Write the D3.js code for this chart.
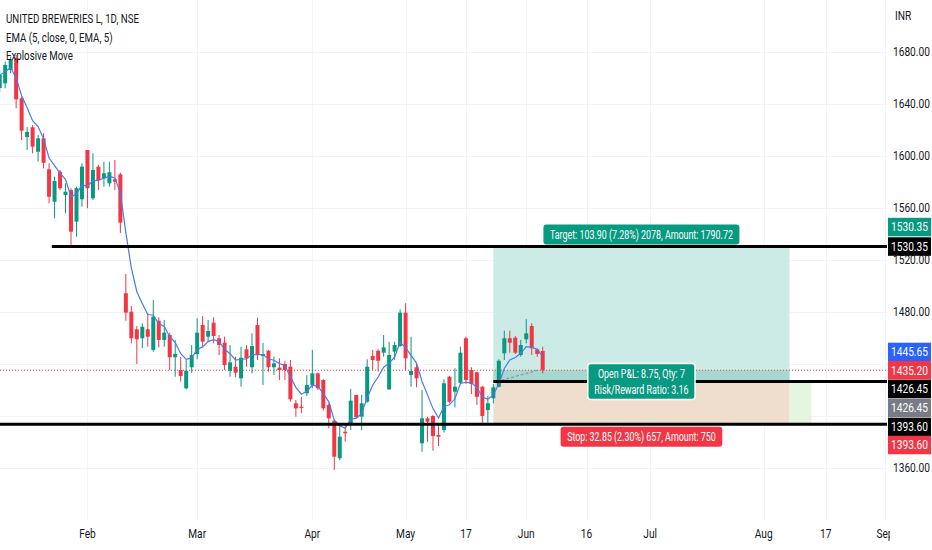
<!DOCTYPE html>
<html lang="en">
<head>
<meta charset="UTF-8">
<title>United Breweries 1D</title>
<script src="https://d3js.org/d3.v7.min.js"></script>
<style>
  html, body { margin: 0; padding: 0; background: #fff; }
  svg { display: block; }
  text {
    font-family: Roboto, 'Liberation Sans', sans-serif;
    fill: #131722;
  }
  .badge text { fill: #fff; }
</style>
</head>
<body>
<script>
    // daily candles, bar 0 .. 99 (mid Jan to 6 Jun)
    var opens = [1652.3,1655.9,1666.2,1675.2,1644.4,1614.6,1622.1,1603.3,1613.6,1589.8,
        1564.8,1587.9,1570.0,1573.8,1549.5,1566.7,1604.6,1567.5,1591.8,1582.8,
        1579.0,1582.1,1585.9,1494.4,1480.2,1466.7,1459.8,1466.7,1450.8,1473.3,
        1458.5,1462.3,1445.2,1435.4,1421.3,1437.5,1447.7,1470.0,1461.0,1471.8,
        1459.8,1456.4,1434.8,1437.9,1429.0,1451.3,1437.5,1470.0,1446.2,1450.2,
        1437.5,1437.2,1440.0,1437.9,1409.8,1407.2,1417.5,1423.8,1432.8,1427.7,
        1408.5,1396.4,1367.5,1387.9,1393.1,1416.2,1399.5,1411.0,1446.2,1450.2,
        1448.7,1420.5,1449.5,1453.8,1479.5,1431.5,1437.5,1379.0,1398.2,1400.0,
        1385.4,1389.2,1430.2,1418.7,1425.6,1459.8,1435.4,1433.6,1422.5,1404.6,
        1413.6,1422.5,1448.2,1459.8,1460.2,1446.9,1459.0,1469.2,1451.3,1450.0];
    var highs = [1666.2,1672.5,1676.4,1677.7,1645.6,1622.3,1623.8,1616.2,1617.5,1594.4,
        1584.1,1589.2,1579.0,1575.2,1576.4,1594.4,1604.6,1602.1,1593.1,1595.6,
        1595.6,1596.9,1587.2,1509.2,1484.6,1469.2,1471.3,1479.0,1489.2,1475.9,
        1473.8,1464.1,1458.5,1445.6,1443.1,1454.6,1475.2,1476.9,1473.8,1475.9,
        1462.3,1461.0,1454.6,1445.6,1453.3,1454.6,1463.6,1475.6,1456.2,1450.8,
        1445.6,1444.4,1442.5,1443.1,1412.3,1414.8,1431.5,1450.8,1433.3,1428.2,
        1409.8,1396.9,1393.1,1394.4,1420.8,1416.2,1416.2,1443.6,1450.8,1451.3,
        1462.3,1457.2,1457.2,1482.1,1486.7,1461.0,1440.0,1420.0,1399.5,1400.8,
        1394.4,1428.2,1430.8,1436.7,1453.3,1461.0,1437.5,1434.1,1423.1,1415.4,
        1424.6,1443.6,1465.6,1465.6,1461.5,1458.5,1474.4,1471.3,1452.1,1453.3];
    var lows = [1649.2,1652.1,1663.6,1636.7,1612.3,1604.6,1602.1,1595.6,1590.5,1563.6,
        1552.1,1573.8,1555.9,1530.2,1537.9,1561.0,1559.8,1566.2,1573.8,1576.4,
        1576.4,1573.8,1540.8,1473.3,1455.9,1440.0,1452.1,1453.3,1449.5,1452.8,
        1453.3,1435.4,1430.2,1426.4,1420.5,1433.3,1443.6,1453.3,1457.2,1455.9,
        1446.9,1435.4,1430.2,1429.8,1422.5,1437.9,1432.8,1443.1,1423.8,1434.1,
        1431.5,1427.7,1427.7,1411.0,1399.5,1402.1,1415.4,1421.3,1420.0,1404.1,
        1390.5,1358.5,1366.0,1380.2,1389.2,1398.2,1389.2,1410.2,1435.4,1434.1,
        1445.6,1420.0,1443.1,1453.3,1435.4,1422.5,1422.1,1372.5,1380.2,1373.3,
        1376.9,1387.2,1409.8,1406.7,1425.2,1424.6,1416.9,1408.5,1394.4,1394.8,
        1409.8,1422.1,1443.1,1448.7,1447.7,1445.6,1455.9,1446.9,1445.6,1432.8];
    var closes = [1662.3,1670.0,1674.4,1643.6,1619.5,1618.5,1607.2,1613.6,1594.8,1568.7,
        1580.8,1575.2,1572.5,1541.8,1575.2,1591.8,1575.2,1589.2,1581.5,1586.7,
        1587.5,1580.2,1548.7,1479.5,1459.8,1459.0,1468.7,1461.0,1476.4,1458.5,
        1464.1,1445.2,1447.7,1430.8,1434.8,1446.9,1464.1,1457.2,1465.4,1461.5,
        1454.6,1439.2,1441.3,1433.3,1444.8,1444.4,1453.8,1446.9,1447.7,1437.5,
        1440.5,1435.4,1435.4,1412.8,1405.9,1406.2,1423.8,1432.8,1421.3,1405.9,
        1398.2,1368.7,1384.1,1386.7,1411.8,1399.0,1409.8,1437.9,1443.1,1442.5,
        1452.8,1446.9,1454.6,1479.5,1444.4,1434.6,1429.0,1398.2,1395.6,1384.6,
        1384.1,1425.2,1411.0,1422.5,1448.7,1427.7,1424.6,1414.8,1400.0,1409.8,
        1422.1,1442.5,1459.8,1456.4,1448.7,1454.6,1463.6,1452.1,1447.7,1435.2];

    // time axis labels and the bar each one sits on
    var timeLabels = ["Feb", "Mar", "Apr", "May", "17", "Jun", "16", "Jul", "Aug", "17", "Sep"];
    var timeBars = [16, 36, 57, 74, 85, 96, 107, 118.6, 139.3, 150.6, 161.4];

    // price grid and the labels that are not hidden under badges
    var priceGrid = [1360, 1400, 1440, 1480, 1520, 1560, 1600, 1640, 1680];
    var priceLabels = [1360, 1480, 1520, 1560, 1600, 1640, 1680];

    // drawn horizontal levels (price, first bar)
    var levelPrices = [1530.35, 1426.45, 1393.60];
    var levelStarts = [9.5, 90, -2];

    // long position tool
    var entryPrice = 1426.45, targetPrice = 1530.35, stopPrice = 1393.60;
    var posStart = 90, posEnd = 144, posExt = 148;
    var lastPrice = 1435.20;
    var targetText = "Target: 103.90 (7.28%) 2078, Amount: 1790.72";
    var stopText = "Stop: 32.85 (2.30%) 657, Amount: 750";
    var midText = ["Open P&L: 8.75, Qty: 7", "Risk/Reward Ratio: 3.16"];

    // right-axis badges
    var badgeValues = [1530.35, 1530.35, 1445.65, 1435.20, 1426.45, 1426.45, 1393.60, 1393.60];
    var badgeColors = ["#089981", "#000000", "#2962ff", "#f23645", "#000000", "#787b86", "#000000", "#f23645"];

    var legend = ["UNITED BREWERIES L, 1D, NSE", "EMA (5, close, 0, EMA, 5)", "Explosive Move"];

    var width = 932, height = 550;
    var plotRight = 887, plotBottom = 520;
    var green = "#089981", red = "#f23645";

    var x = d3.scaleLinear().domain([0, 99]).range([-0.3, 542.7]);
    var y = d3.scaleLinear().domain([1360, 1680]).range([468, 52]);

    var candles = opens.map(function (o, i) {
        return {i: i, o: o, h: highs[i], l: lows[i], c: closes[i]};
    });

    // EMA(5) of close
    var ema = [];
    closes.forEach(function (c, i) {
        ema.push(i === 0 ? c : c * 2 / 6 + ema[i - 1] * 4 / 6);
    });

    var svg = d3.select("body").append("svg")
        .attr("width", width).attr("height", height)
        .attr("viewBox", "0 0 " + width + " " + height);

    svg.append("rect").attr("width", width).attr("height", height).attr("fill", "#fff");

    var defs = svg.append("defs");
    defs.append("clipPath").attr("id", "plot")
        .append("rect").attr("width", plotRight).attr("height", plotBottom);
    defs.append("clipPath").attr("id", "timeclip")
        .append("rect").attr("width", plotRight + 3).attr("height", height);

    // the chart font is a narrow one: measure and squeeze horizontally
    var fsLegend = 13.5, fsAxis = 12.5, fsLabel = 13;
    function measure(str, size) {
        var t = svg.append("text").attr("font-size", size).text(str);
        var w = t.node().getComputedTextLength();
        t.remove();
        return w;
    }
    var kLegend = 133 / measure(legend[0], fsLegend);
    var kAxis = 37 / measure("1680.00", fsAxis);
    var kLabel = 183 / measure(targetText, fsLabel);

    function squeeze(sel, k) {
        sel.each(function () {
            var t = d3.select(this);
            var tx = +t.attr("x"), ty = +t.attr("y");
            t.attr("x", 0).attr("y", 0)
                .attr("transform", "translate(" + tx + "," + ty + ") scale(" + k + ",1)");
        });
    }

    var plot = svg.append("g").attr("clip-path", "url(#plot)");

    // grid
    plot.selectAll(".hgrid").data(priceGrid).enter().append("line")
        .attr("x1", 0).attr("x2", plotRight)
        .attr("y1", function (d) { return Math.round(y(d)) + 0.5; })
        .attr("y2", function (d) { return Math.round(y(d)) + 0.5; })
        .attr("stroke", "#f0f3fa");
    plot.selectAll(".vgrid").data(timeBars).enter().append("line")
        .attr("x1", function (d) { return Math.round(x(d)) + 0.5; })
        .attr("x2", function (d) { return Math.round(x(d)) + 0.5; })
        .attr("y1", 0).attr("y2", plotBottom)
        .attr("stroke", "#f0f3fa");

    // position tool areas
    plot.append("rect")
        .attr("x", x(posStart)).attr("width", x(posEnd) - x(posStart))
        .attr("y", y(targetPrice)).attr("height", y(entryPrice) - y(targetPrice))
        .attr("fill", "#cdebe6");
    plot.append("rect")
        .attr("x", x(posStart)).attr("width", x(posEnd) - x(posStart))
        .attr("y", y(lastPrice)).attr("height", y(entryPrice) - y(lastPrice))
        .attr("fill", "#a5d8cf");
    plot.append("rect")
        .attr("x", x(posStart)).attr("width", x(posEnd) - x(posStart))
        .attr("y", y(entryPrice)).attr("height", y(stopPrice) - y(entryPrice))
        .attr("fill", "#efdecd");
    plot.append("rect")
        .attr("x", x(posEnd)).attr("width", x(posExt) - x(posEnd))
        .attr("y", y(entryPrice)).attr("height", y(stopPrice) - y(entryPrice))
        .attr("fill", "#e4f6df");

    // last price dotted line
    plot.append("line")
        .attr("x1", 0).attr("x2", plotRight)
        .attr("y1", y(lastPrice)).attr("y2", y(lastPrice))
        .attr("stroke", red).attr("stroke-width", 1).attr("stroke-dasharray", "1 2");

    // candles
    var bars = plot.selectAll(".candle").data(candles).enter().append("g").attr("class", "candle");
    bars.append("line")
        .attr("x1", function (d) { return x(d.i); })
        .attr("x2", function (d) { return x(d.i); })
        .attr("y1", function (d) { return y(d.h); })
        .attr("y2", function (d) { return y(d.l); })
        .attr("stroke", function (d) { return d.c >= d.o ? green : red; })
        .attr("stroke-width", 1);
    bars.append("rect")
        .attr("x", function (d) { return x(d.i) - 2; })
        .attr("width", 4)
        .attr("y", function (d) { return y(Math.max(d.o, d.c)); })
        .attr("height", function (d) { return Math.max(1, Math.abs(y(d.o) - y(d.c))); })
        .attr("fill", function (d) { return d.c >= d.o ? green : red; });

    // EMA line
    plot.append("path")
        .datum(ema)
        .attr("fill", "none")
        .attr("stroke", "#4a7bec")
        .attr("stroke-width", 1.2)
        .attr("d", d3.line()
            .x(function (d, i) { return x(i); })
            .y(function (d) { return y(d); }));

    // trade path (entry -> last close)
    plot.append("line")
        .attr("x1", x(posStart + 0.6)).attr("y1", y(entryPrice))
        .attr("x2", x(98.8)).attr("y2", y(closes[99] + 0.8))
        .attr("stroke", "#9598a1").attr("stroke-width", 1.3).attr("stroke-dasharray", "3 2");

    // horizontal levels
    plot.selectAll(".level").data(levelPrices).enter().append("line")
        .attr("x1", function (d, i) { return x(levelStarts[i]); })
        .attr("x2", plotRight)
        .attr("y1", function (d) { return y(d); })
        .attr("y2", function (d) { return y(d); })
        .attr("stroke", "#000").attr("stroke-width", 3);

    // position labels
    var posMid = (x(posStart) + x(posEnd)) / 2;

    function labelBox(lines, cx, cy, fill, border) {
        var g = svg.append("g").attr("class", "badge");
        var lineH = 16;
        var t = g.selectAll("text").data(lines).enter().append("text")
            .attr("x", cx)
            .attr("y", function (d, i) { return cy + (i - (lines.length - 1) / 2) * lineH; })
            .attr("dy", "0.35em")
            .attr("text-anchor", "middle")
            .attr("font-size", fsLabel)
            .text(function (d) { return d; });
        var w = d3.max(t.nodes(), function (n) { return n.getComputedTextLength(); }) * kLabel + 13;
        var h = lines.length * lineH + 4;
        squeeze(t, kLabel);
        g.insert("rect", "text")
            .attr("x", cx - w / 2).attr("y", cy - h / 2)
            .attr("width", w).attr("height", h)
            .attr("rx", 3)
            .attr("fill", fill)
            .attr("stroke", border || "none").attr("stroke-width", 1.5);
    }

    labelBox([targetText], posMid, y(targetPrice) - 12, green);
    labelBox(midText, posMid, y(entryPrice), green, "#fff");
    labelBox([stopText], posMid, y(stopPrice) + 12.5, red);

    // legend
    squeeze(svg.selectAll(".legend").data(legend).enter().append("text")
        .attr("x", 6)
        .attr("y", function (d, i) { return 18.5 + i * 18.5; })
        .attr("dy", "0.35em")
        .attr("font-size", fsLegend)
        .text(function (d) { return d; }), kLegend);

    // price axis
    squeeze(svg.append("text").attr("x", 895).attr("y", 16).attr("dy", "0.35em")
        .attr("font-size", fsAxis).text("INR"), kAxis);
    squeeze(svg.selectAll(".plabel").data(priceLabels).enter().append("text")
        .attr("x", 893)
        .attr("y", function (d) { return y(d); })
        .attr("dy", "0.35em")
        .attr("font-size", fsAxis)
        .text(function (d) { return d3.format(".2f")(d); }), kAxis);

    // badge layout offsets (px) so the stacked badges don't overlap
    var badgeShift = [-19.5, 0, -4.7, 0, 7.4, 26.4, 2.7, 20.7];
    var badges = svg.selectAll(".pbadge").data(badgeValues).enter().append("g").attr("class", "badge");
    badges.append("rect")
        .attr("x", 888).attr("width", 43).attr("height", 18.5)
        .attr("y", function (d, i) { return y(d) + badgeShift[i] - 9.25; })
        .attr("fill", function (d, i) { return badgeColors[i]; });
    squeeze(badges.append("text")
        .attr("x", 909.5)
        .attr("y", function (d, i) { return y(d) + badgeShift[i]; })
        .attr("dy", "0.35em")
        .attr("text-anchor", "middle")
        .attr("font-size", fsAxis)
        .text(function (d) { return d3.format(".2f")(d); }), kAxis);

    // time axis
    squeeze(svg.append("g").attr("clip-path", "url(#timeclip)")
        .selectAll("text").data(timeLabels).enter().append("text")
        .attr("x", function (d, i) { return x(timeBars[i]); })
        .attr("y", 534)
        .attr("dy", "0.35em")
        .attr("text-anchor", "middle")
        .attr("font-size", fsAxis)
        .text(function (d) { return d; }), kAxis);
</script>
</body>
</html>
